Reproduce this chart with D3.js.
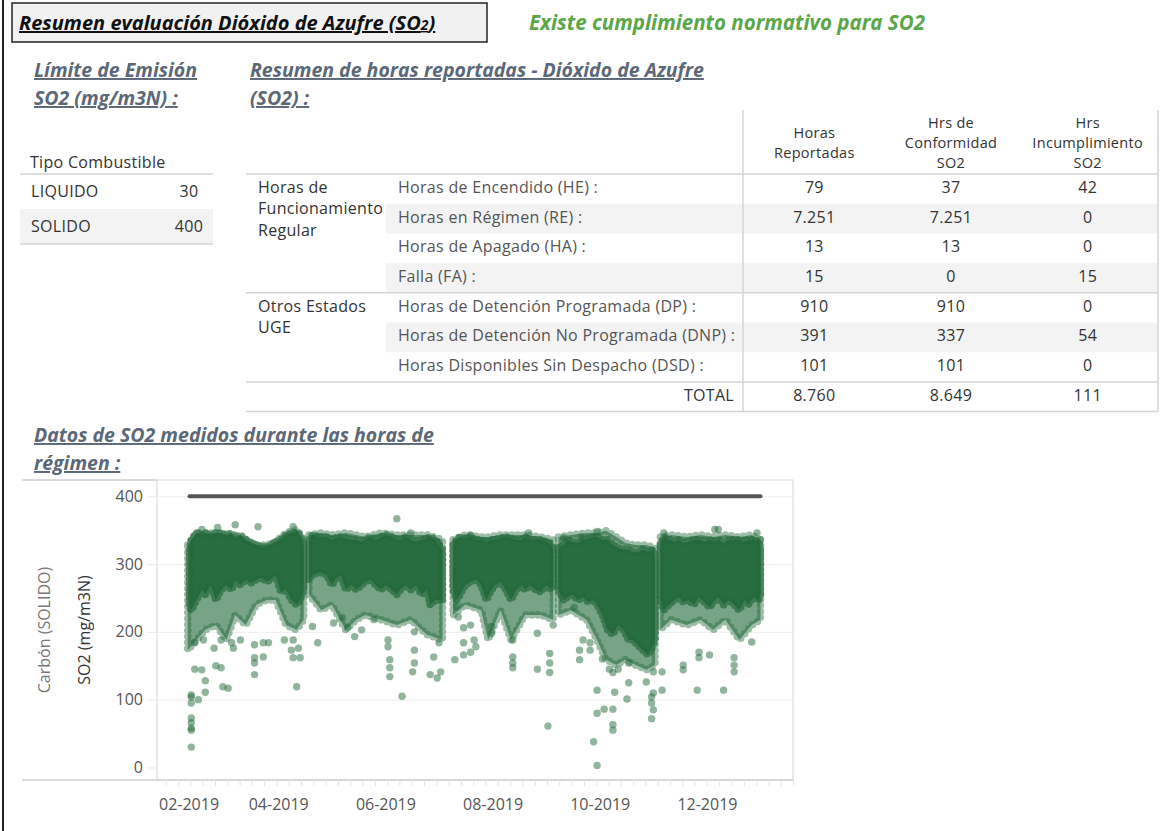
<!DOCTYPE html>
<html>
<head>
<meta charset="utf-8">
<script src="https://cdn.jsdelivr.net/npm/d3@7"></script>
<style>
  body { margin: 0; background: #fff; }
  svg { display: block; font-family: "Open Sans", sans-serif; }
  .hd { font-family: "Open Sans", sans-serif; font-weight: 700; font-style: italic; text-decoration: underline; }
  .body { font-size: 16px; letter-spacing: 0.3px; }
</style>
</head>
<body>
<svg id="dash" width="1175" height="831"></svg>
<script>
// ---- limite de emision
var fuelTypes = ["LIQUIDO", "SOLIDO"];
var fuelLimits = [30, 400];

// ---- resumen de horas
var groupNames = [["Horas de", "Funcionamiento", "Regular"], ["Otros Estados", "UGE"]];
var groupSizes = [4, 3];
var stateLabels = [
  "Horas de Encendido (HE) :",
  "Horas en Régimen (RE) :",
  "Horas de Apagado (HA) :",
  "Falla (FA) :",
  "Horas de Detención Programada (DP) :",
  "Horas de Detención No Programada (DNP) :",
  "Horas Disponibles Sin Despacho (DSD) :"
];
var colHeaders = [["Horas", "Reportadas"], ["Hrs de", "Conformidad", "SO2"], ["Hrs", "Incumplimiento", "SO2"]];
var hrsReportadas = [79, 7251, 13, 15, 910, 391, 101];
var hrsConformidad = [37, 7251, 13, 0, 910, 337, 101];
var hrsIncumplimiento = [42, 0, 0, 15, 0, 54, 0];

// ---- scatter SO2 (day of year 2019, mg/m3N)
var yTicks = [0, 100, 200, 300, 400];
var xTickMonths = [1, 3, 5, 7, 9, 11];
var limitSolido = 400;
var limitDays = [40, 365];
// dense part of the cloud: [day, top, bottom]
var coreA = [[40,320,240],[41,336,232],[44,346,247],[47,343,262],[49,346,255],[52,343,269],[55,346,247],[58,346,262],[61,343,269],[64,346,262],[66,340,277],[69,343,269],[72,336,277],[75,331,272],[78,328,277],[81,325,280],[84,325,274],[86,328,277],[89,333,284],[92,336,259],[95,343,262],[98,346,247],[101,347,240],[103,343,247],[105,328,262]];
var coreB = [[108,336,277],[110,343,284],[114,340,288],[118,340,284],[121,336,269],[123,338,277],[126,340,284],[129,338,262],[132,336,269],[135,336,262],[138,333,269],[140,336,274],[143,340,277],[146,336,269],[149,340,262],[152,343,269],[155,340,262],[158,336,255],[160,336,262],[163,340,269],[166,336,262],[169,333,269],[172,336,255],[175,338,262],[177,340,240],[180,336,247],[184,321,247]];
var coreC = [[190,328,262],[192,336,247],[194,340,255],[197,338,269],[200,340,274],[203,336,277],[206,336,269],[209,333,247],[212,336,262],[214,336,269],[217,338,274],[220,340,262],[223,338,247],[226,336,262],[229,336,269],[231,340,262],[234,336,269],[237,336,262],[240,336,259],[243,333,269],[246,328,262],[247,321,269]];
var coreD = [[250,324,262],[253,328,247],[255,336,251],[258,333,255],[261,331,247],[264,336,251],[267,338,244],[270,340,247],[272,340,240],[275,336,225],[278,336,203],[281,328,196],[284,324,210],[287,321,203],[290,321,188],[292,318,188],[295,317,181],[298,321,173],[301,318,166],[304,321,181],[305,306,188]];
var coreE = [[308,328,247],[310,340,232],[313,336,240],[316,333,247],[319,336,251],[321,331,244],[324,333,247],[327,336,240],[330,336,251],[333,333,244],[336,336,236],[339,333,247],[341,336,251],[344,331,240],[347,336,247],[350,336,240],[353,336,232],[356,333,247],[358,336,240],[361,336,251],[364,333,247],[365,324,255]];
// sparser part around it
var haloA = [[39,328,173],[44,346,188],[49,346,203],[55,346,210],[61,343,188],[66,340,225],[72,336,210],[78,328,240],[84,328,247],[89,333,247],[95,346,210],[101,351,203],[105,336,218]];
var haloB = [[108,343,255],[115,346,232],[121,343,240],[129,346,203],[135,343,218],[140,340,225],[149,346,218],[158,343,210],[166,343,218],[175,343,196],[184,336,188]];
var haloC = [[190,336,225],[197,343,240],[206,340,232],[210,340,188],[217,343,232],[223,343,188],[231,343,225],[240,340,225],[247,336,218]];
var haloD = [[250,340,225],[257,343,232],[266,346,218],[272,346,188],[277,349,159],[283,340,151],[288,331,159],[294,328,151],[300,328,144],[305,324,151]];
var haloE = [[308,340,203],[314,343,218],[323,340,210],[331,343,218],[338,340,203],[345,343,218],[353,340,188],[360,343,210],[365,336,218]];
// isolated readings [day, value]
var outliers = [[41,30],[41,55],[41,58],[41,66],[41,73],[41,95],[41,104],[41,107],[45,100],[49,111],[43,145],[47,144],[49,128],[55,150],[58,147],[59,119],[62,117],[65,176],[77,162],[77,137],[77,154],[82,163],[85,184],[101,119],[99,162],[103,162],[102,176],[99,188],[79,355],[66,358],[47,351],[56,354],[99,355],[110,208],[130,206],[127,221],[153,178],[154,159],[154,147],[154,134],[161,105],[158,367],[168,154],[167,141],[168,173],[168,200],[177,137],[181,132],[183,141],[179,163],[182,184],[191,159],[196,166],[196,184],[200,170],[202,188],[203,178],[192,237],[193,222],[196,206],[200,210],[212,198],[212,208],[224,163],[224,154],[224,147],[224,188],[238,145],[238,198],[245,140],[245,168],[245,154],[244,61],[247,210],[253,339],[262,159],[262,173],[264,188],[259,236],[270,38],[272,3],[272,114],[272,80],[276,86],[281,86],[281,63],[281,55],[282,111],[281,140],[284,145],[290,125],[289,101],[290,154],[279,145],[275,160],[268,173],[268,184],[300,126],[303,104],[303,95],[303,72],[304,85],[304,110],[304,141],[309,114],[309,141],[321,144],[321,151],[329,114],[330,162],[330,170],[336,166],[344,114],[350,141],[350,151],[350,162],[360,185],[363,346],[365,336],[341,351],[310,346],[272,348],[263,340],
  [43,184],[48,188],[54,176],[58,188],[64,184],[69,188],[77,181],[82,184],[94,188],[98,173],[113,184],[122,213],[134,193],[138,203],[145,218],[153,188],[166,346],[200,343],[233,346],[339,351]];

var W = 1175, H = 831;
var green = "#236a3c", slate = "#5c6878";
var fmt = d3.formatLocale({decimal: ",", thousands: ".", grouping: [3], currency: ["$", ""]}).format(",d");

var svg = d3.select("#dash");

// left border of the dashboard
svg.append("line").attr("x1", 3).attr("x2", 3).attr("y1", 0).attr("y2", H)
  .attr("stroke", "#222").attr("stroke-width", 2);

// title box
svg.append("rect").attr("x", 12).attr("y", 3).attr("width", 475).attr("height", 39)
  .attr("fill", "#f1f1f1").attr("stroke", "#222").attr("stroke-width", 1.5);
var title = svg.append("text").attr("class", "hd").attr("x", 19).attr("y", 30)
  .style("font-size", "20px").attr("fill", "#111");
title.append("tspan").text("Resumen evaluación Dióxido de Azufre (SO");
title.append("tspan").style("font-size", "14px").text("2");
title.append("tspan").text(")");

svg.append("text").attr("x", 529).attr("y", 30)
  .style("font-weight", 700).style("font-style", "italic")
  .style("font-size", "20.5px").attr("fill", "#5aa648")
  .text("Existe cumplimiento normativo para SO2");

// section headings
function heading(x, y, lines) {
  lines.forEach(function (t, i) {
    svg.append("text").attr("class", "hd").attr("x", x).attr("y", y + i * 28)
      .style("font-size", "19.5px").attr("fill", slate).text(t);
  });
}
heading(34, 77, ["Límite de Emisión", "SO2 (mg/m3N) :"]);
heading(250, 77, ["Resumen de horas reportadas - Dióxido de Azufre", "(SO2) :"]);
heading(34, 442, ["Datos de SO2 medidos durante las horas de", "régimen :"]);

// ---- small limits table
var lt = svg.append("g").attr("class", "body").attr("fill", "#333");
lt.append("text").attr("x", 30).attr("y", 162).attr("dy", "0.35em").text("Tipo Combustible");
var ly = d3.scaleBand().domain(fuelTypes).range([174, 244]);
lt.selectAll("rect.sh").data(fuelTypes.filter(function (d, i) { return i % 2; })).enter()
  .append("rect").attr("x", 20).attr("width", 193).attr("y", function (d) { return ly(d); })
  .attr("height", ly.bandwidth()).attr("fill", "#f3f3f3");
lt.selectAll("text.ft").data(fuelTypes).enter().append("text")
  .attr("x", 31).attr("y", function (d) { return ly(d) + ly.bandwidth() / 2; }).attr("dy", "0.35em")
  .text(function (d) { return d; });
lt.selectAll("text.fv").data(fuelLimits).enter().append("text")
  .attr("x", 189).attr("text-anchor", "middle")
  .attr("y", function (d, i) { return ly(fuelTypes[i]) + ly.bandwidth() / 2; }).attr("dy", "0.35em")
  .text(function (d) { return d; });
[174, 244].forEach(function (y) {
  lt.append("line").attr("x1", 20).attr("x2", 213).attr("y1", y).attr("y2", y)
    .attr("stroke", "#d4d4d4").attr("stroke-width", 1.5);
});

// ---- hours table
var tLeft = 246, tSplit = 743, tRight = 1158;
var rows = d3.range(stateLabels.length + 1);
var ry = d3.scaleBand().domain(rows).range([174, 411.6]);
var cx = d3.scaleBand().domain(d3.range(colHeaders.length)).range([746, 1156]);
var cols = [hrsReportadas, hrsConformidad, hrsIncumplimiento];
var ht = svg.append("g").attr("class", "body");

ht.selectAll("rect.sh").data(rows.filter(function (r) { return r % 2 === 1 && r < stateLabels.length; })).enter()
  .append("rect").attr("x", 386).attr("width", tRight - 386)
  .attr("y", function (r) { return ry(r); }).attr("height", ry.bandwidth()).attr("fill", "#f3f3f3");

colHeaders.forEach(function (lines, c) {
  var y0 = 143 - (lines.length - 1) * 20 / 2;
  lines.forEach(function (t, i) {
    ht.append("text").attr("x", cx(c) + cx.bandwidth() / 2).attr("y", y0 + i * 20).attr("dy", "0.35em")
      .attr("text-anchor", "middle").attr("fill", "#333").style("font-size", "14.5px").text(t);
  });
});

var start = 0;
groupNames.forEach(function (lines, g) {
  lines.forEach(function (t, i) {
    ht.append("text").attr("x", 258).attr("y", ry(start) + ry.bandwidth() / 2 - 1.5 + i * 21.5)
      .attr("dy", "0.35em").attr("fill", "#333").text(t);
  });
  start += groupSizes[g];
});

ht.selectAll("text.st").data(stateLabels).enter().append("text")
  .attr("x", 398).attr("y", function (d, i) { return ry(i) + ry.bandwidth() / 2 - 1.5; })
  .attr("dy", "0.35em").attr("fill", "#555").text(function (d) { return d; });
ht.append("text").attr("x", 734).attr("y", ry(stateLabels.length) + ry.bandwidth() / 2 - 1.5)
  .attr("dy", "0.35em").attr("text-anchor", "end").attr("fill", "#333").text("TOTAL");

cols.forEach(function (vals, c) {
  ht.selectAll("text.v" + c).data(vals.concat([d3.sum(vals)])).enter().append("text")
    .attr("x", cx(c) + cx.bandwidth() / 2).attr("text-anchor", "middle")
    .attr("y", function (d, i) { return ry(i) + ry.bandwidth() / 2 - 1.5; })
    .attr("dy", "0.35em").attr("fill", "#333").text(function (d) { return fmt(d); });
});

[ry(0), ry(groupSizes[0]), ry(stateLabels.length), ry(stateLabels.length) + ry.bandwidth()].forEach(function (y) {
  ht.append("line").attr("x1", tLeft).attr("x2", tRight).attr("y1", y).attr("y2", y)
    .attr("stroke", "#d4d4d4").attr("stroke-width", 1.5);
});
[tSplit, tRight].forEach(function (x) {
  ht.append("line").attr("x1", x).attr("x2", x).attr("y1", 110).attr("y2", 411.6)
    .attr("stroke", "#d4d4d4").attr("stroke-width", 1.5);
});

// ---- scatter
var pL = 157, pR = 793, pT = 480, pB = 780;
var day = function (d) { return d3.timeHour.offset(d3.timeDay.offset(new Date(2019, 0, 1), d - 1), 12); };
var x = d3.scaleTime().domain([new Date(2019, 0, 22), new Date(2020, 0, 19)]).range([pL, pR]);
var y = d3.scaleLinear().domain([-18.5, 424]).range([pB, pT]);

var chart = svg.append("g");
chart.append("rect").attr("x", pL).attr("y", pT).attr("width", pR - pL).attr("height", pB - pT)
  .attr("fill", "#fff").attr("stroke", "#d6d6d6");

// grid
chart.append("g").attr("transform", "translate(" + pL + ",0)")
  .call(d3.axisLeft(y).tickValues(yTicks.filter(function (t) { return t > 0; })).tickSize(-(pR - pL)).tickFormat(""))
  .call(function (g) { g.select(".domain").remove(); g.selectAll("line").attr("stroke", "#efefef"); });

// y axis
chart.append("g").attr("transform", "translate(" + pL + ",0)")
  .call(d3.axisLeft(y).tickValues(yTicks).tickSize(10).tickPadding(4))
  .call(function (g) {
    g.select(".domain").remove();
    g.selectAll("line").attr("stroke", "#e8e8e8");
    g.selectAll("text").attr("fill", "#555").style("font-size", "16px").style("font-family", "Open Sans, sans-serif");
  });

// frame lines of the Tableau pane
chart.append("line").attr("x1", 22).attr("x2", pL).attr("y1", pT).attr("y2", pT).attr("stroke", "#cfcfcf").attr("stroke-width", 1.5);
chart.append("line").attr("x1", 22).attr("x2", pR).attr("y1", pB).attr("y2", pB).attr("stroke", "#cfcfcf").attr("stroke-width", 1.5);

// x axis: minor weekly ticks + month labels
chart.append("g").attr("transform", "translate(0," + pB + ")")
  .call(d3.axisBottom(x).ticks(d3.timeWeek.every(1)).tickSize(6).tickFormat(""))
  .call(function (g) { g.select(".domain").remove(); g.selectAll("line").attr("stroke", "#e3e3e3"); });
var xl = chart.append("g").attr("transform", "translate(0," + pB + ")")
  .call(d3.axisBottom(x).tickValues(xTickMonths.map(function (m) { return new Date(2019, m, 1); }))
    .tickSize(0).tickPadding(19).tickFormat(d3.timeFormat("%m-%Y")));
xl.select(".domain").remove();
xl.selectAll("text").attr("fill", "#555").style("font-size", "16px").style("font-family", "Open Sans, sans-serif")
  .each(function () {
    var b = this.getBBox(), tx = +this.parentNode.getAttribute("transform").match(/translate\(([\d.]+)/)[1];
    if (tx + b.x < pL + 2) d3.select(this).attr("x", pL + 2 - (tx + b.x));
  });

// axis titles
chart.append("text").attr("transform", "translate(44," + (pT + pB) / 2 + ") rotate(-90)")
  .attr("text-anchor", "middle").attr("dy", "0.35em").attr("fill", "#777").style("font-size", "16px")
  .text("Carbón (SOLIDO)");
chart.append("text").attr("transform", "translate(84," + (pT + pB) / 2 + ") rotate(-90)")
  .attr("text-anchor", "middle").attr("dy", "0.35em").attr("fill", "#333").style("font-size", "16px")
  .text("SO2 (mg/m3N)");

// limit line
chart.append("line").attr("x1", x(day(limitDays[0]))).attr("x2", x(day(limitDays[1])))
  .attr("y1", y(limitSolido)).attr("y2", y(limitSolido))
  .attr("stroke", "#555").attr("stroke-width", 4).attr("stroke-linecap", "round");

var area = d3.area().x(function (d) { return x(day(d[0])); })
  .y0(function (d) { return y(d[2]); }).y1(function (d) { return y(d[1]); });
var cloud = chart.append("g");
var halos = [haloA, haloB, haloC, haloD, haloE], cores = [coreA, coreB, coreC, coreD, coreE];
cloud.selectAll("path.halo").data(halos).enter().append("path")
  .attr("d", area).attr("fill", green).attr("fill-opacity", 0.62).attr("stroke", "none");
// bead-like rim so the edge reads as overlapping dots
cloud.selectAll("path.haloRim").data(halos).enter().append("path")
  .attr("d", area).attr("fill", "none").attr("stroke", green).attr("stroke-opacity", 0.45)
  .attr("stroke-width", 7.5).attr("stroke-linecap", "round").attr("stroke-dasharray", "0 6");
cloud.selectAll("path.core").data(cores).enter().append("path")
  .attr("d", area).attr("fill", green).attr("fill-opacity", 0.95).attr("stroke", "none");
cloud.selectAll("path.coreRim").data(cores).enter().append("path")
  .attr("d", area).attr("fill", "none").attr("stroke", green).attr("stroke-opacity", 0.7)
  .attr("stroke-width", 7.5).attr("stroke-linecap", "round").attr("stroke-dasharray", "0 5");
cloud.selectAll("circle").data(outliers).enter().append("circle")
  .attr("cx", function (d) { return x(day(d[0])); }).attr("cy", function (d) { return y(d[1]); })
  .attr("r", 3.7).attr("fill", green).attr("fill-opacity", 0.5);
</script>
</body>
</html>
